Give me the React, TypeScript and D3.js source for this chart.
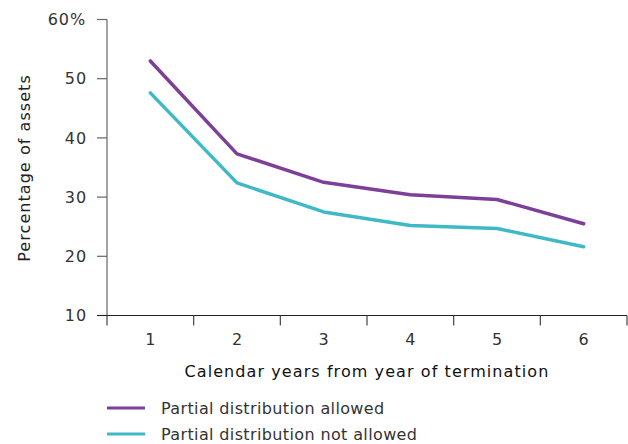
import React from "react";
import * as d3 from "d3";

const years = ["1", "2", "3", "4", "5", "6"];
const allowed = [53.0, 37.3, 32.5, 30.4, 29.6, 25.5];
const notAllowed = [47.6, 32.4, 27.5, 25.2, 24.7, 21.6];
const yTicks = [10, 20, 30, 40, 50, 60];
const seriesNames = ["Partial distribution allowed", "Partial distribution not allowed"];
const seriesColors = ["#7d3f98", "#3fb9c6"];

export default function App() {
  const W = 628, H = 444;
  const left = 107, right = 627, top = 19.5, bottom = 315.5;
  const x = d3.scaleBand<string>().domain(years).range([left, right]);
  const y = d3.scaleLinear().domain([10, 60]).range([bottom, top]);
  const line = d3.line<number>()
    .x((_, i) => (x(years[i]) as number) + x.bandwidth() / 2)
    .y((d) => y(d));
  const font = "'DejaVu Sans', sans-serif";
  const ls = 0.9;
  const xTickPos = years.map((d) => x(d) as number).concat([right]);
  return (
    <svg width={W} height={H} style={{ position: "absolute", left: 0, top: 0 }} fontFamily={font}>
      <line x1={left} x2={left} y1={top} y2={bottom} stroke="#666" strokeWidth={1.2} />
      {yTicks.map((t) => (
        <g key={t}>
          <line x1={left - 10} x2={left} y1={y(t)} y2={y(t)} stroke="#666" strokeWidth={1.2} />
          <text x={t === 60 ? 86 : 87} y={y(t)} dy="0.36em" textAnchor="end" fontSize={16} fill="#333" letterSpacing={ls}>
            {t === 60 ? "60%" : t}
          </text>
        </g>
      ))}
      <line x1={left - 10} x2={right} y1={bottom} y2={bottom} stroke="#222" strokeWidth={1.2} />
      {xTickPos.map((p, i) => (
        <line key={i} x1={p} x2={p} y1={bottom} y2={bottom + 10} stroke="#444" strokeWidth={1.2} />
      ))}
      {years.map((d) => (
        <text key={d} x={(x(d) as number) + x.bandwidth() / 2} y={345} textAnchor="middle" fontSize={16} fill="#333">
          {d}
        </text>
      ))}
      <text x={367} y={377} textAnchor="middle" fontSize={16} fill="#111" letterSpacing={1.08}>
        Calendar years from year of termination
      </text>
      <text transform={`translate(30,168) rotate(-90)`} textAnchor="middle" fontSize={16} fill="#222" letterSpacing={1.05}>
        Percentage of assets
      </text>
      {[allowed, notAllowed].map((s, i) => (
        <path key={i} d={line(s) || ""} fill="none" stroke={seriesColors[i]} strokeWidth={3.5} strokeLinecap="round" strokeLinejoin="round" />
      ))}
      {seriesNames.map((n, i) => (
        <g key={n}>
          <line x1={107} x2={145} y1={408 + i * 26} y2={408 + i * 26} stroke={seriesColors[i]} strokeWidth={3} />
          <text x={161} y={408 + i * 26} dy="0.36em" fontSize={16} fill="#333" letterSpacing={0.37}>{n}</text>
        </g>
      ))}
    </svg>
  );
}
